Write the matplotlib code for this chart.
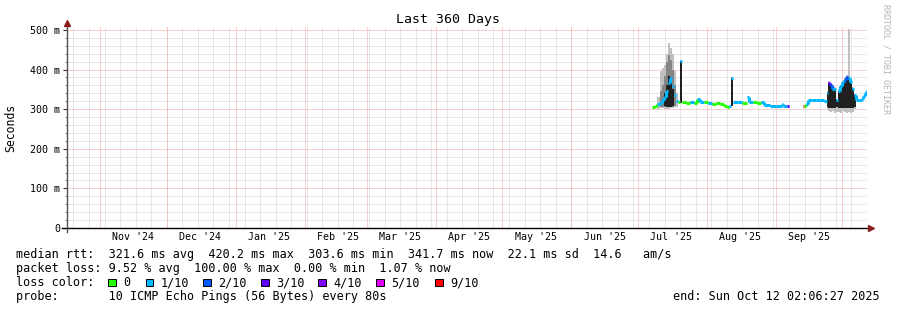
import numpy as np
import pandas as pd
import matplotlib
matplotlib.use("Agg")
import matplotlib.pyplot as plt
import matplotlib.dates as mdates
from matplotlib.lines import Line2D
from matplotlib.patches import Rectangle
from matplotlib.collections import LineCollection

W, H = 897, 310
FONT = "DejaVu Sans Mono"

# --- data -------------------------------------------------------------
start = pd.Timestamp("2024-10-17 02:06:27")
end = pd.Timestamp("2025-10-12 02:06:27")

sample_times = [
    "2025-07-07 12:00", "2025-07-08 17:00", "2025-07-09 19:00", "2025-07-10 23:00",
    "2025-07-11 20:00", "2025-07-12 18:00", "2025-07-13 16:00", "2025-07-14 13:00",
    "2025-07-15 11:00", "2025-07-16 08:00", "2025-07-17 06:00", "2025-07-18 03:00",
    "2025-07-19 00:00", "2025-07-19 22:00", "2025-07-21 00:00", "2025-07-22 16:00",
    "2025-07-24 11:00", "2025-07-26 06:00", "2025-07-27 14:00", "2025-07-28 23:00",
    "2025-07-30 18:00", "2025-08-01 13:00", "2025-08-03 08:00", "2025-08-05 03:00",
    "2025-08-06 23:00", "2025-08-08 18:00", "2025-08-10 02:00", "2025-08-11 02:00",
    "2025-08-11 22:00", "2025-08-13 00:00", "2025-08-15 01:00", "2025-08-16 20:00",
    "2025-08-18 21:00", "2025-08-20 00:00", "2025-08-21 19:00", "2025-08-23 14:00",
    "2025-08-25 10:00", "2025-08-26 17:00", "2025-08-29 10:00", "2025-09-01 03:00",
    "2025-09-03 15:00", "2025-09-04 12:00", "2025-09-06 07:00", "2025-09-06 20:00",
    "2025-09-13 02:00", "2025-09-13 17:00", "2025-09-14 14:00", "2025-09-15 12:00",
    "2025-09-17 07:00", "2025-09-19 02:00", "2025-09-20 22:00", "2025-09-22 17:00",
    "2025-09-23 21:00", "2025-09-24 12:00", "2025-09-25 10:00", "2025-09-26 07:00",
    "2025-09-27 05:00", "2025-09-28 02:00", "2025-09-29 00:00", "2025-09-29 22:00",
    "2025-09-30 20:00", "2025-10-01 17:00", "2025-10-02 15:00", "2025-10-03 12:00",
    "2025-10-04 10:00", "2025-10-05 08:00", "2025-10-06 05:00", "2025-10-07 03:00",
    "2025-10-08 12:00", "2025-10-09 19:00", "2025-10-10 12:00", "2025-10-11 05:00",
    "2025-10-11 16:00",
]
nan = np.nan
median_ms = [
    305, 309, 312, 316, 322, 332, 345, 365, 379, 358, 336, 320,
    317, 421, 317, 316, 318, 316, 325, 319, 317, 315, 312, 315,
    313, 309, 306, 309, 378, 317, 317, 316, 332, 317, 318, 316,
    318, 310, 309, 309, 312, 309, 309, nan,
    307, 308, 312, 324, 323, 324, 322, 321, 340, 366, 362, 350,
    352, 322, 345, 358, 368, 374, 382, 378, 368, 352, 335, 322,
    324, 326, 333, 342, 345,
]
loss_level = [
    0, 0, 1, 1, 1, 1, 1, 1, 1, 1, 1, 1,
    0, 1, 0, 0, 1, 0, 1, 1, 0, 1, 0, 0,
    0, 0, 0, 1, 1, 1, 1, 0, 1, 1, 0, 0,
    1, 1, 1, 1, 1, 1, 3, 0,
    6, 0, 1, 1, 1, 1, 1, 1, 1, 3, 2, 1,
    1, 1, 1, 1, 1, 2, 2, 1, 1, 1, 1, 1,
    1, 1, 1, 1, 1,
]
# outer (light) smoke
smoke_lo = [
    nan, nan, 300, 302, 302, 300, 300, 300, 302, 302, 305, 306,
    nan, nan, nan, nan, nan, nan, nan, nan, nan, nan, nan, nan,
    nan, nan, nan, nan, nan, nan, nan, nan, nan, nan, nan, nan,
    nan, nan, nan, nan, nan, nan, nan, nan,
    nan, nan, nan, nan, nan, nan, nan, nan, 300, 296, 292, 295,
    290, 294, 292, 290, 296, 293, 290, 292, 290, 294, 300, nan,
    nan, nan, nan, nan, nan,
]
smoke_hi = [
    nan, nan, 330, 396, 405, 412, 440, 467, 455, 440, 396, 340,
    nan, nan, nan, nan, nan, nan, nan, nan, nan, nan, nan, nan,
    nan, nan, nan, nan, nan, nan, nan, nan, nan, nan, nan, nan,
    nan, nan, nan, nan, nan, nan, nan, nan,
    nan, nan, nan, nan, nan, nan, nan, nan, 345, 370, 366, 355,
    356, 326, 350, 362, 372, 378, 386, 503, 372, 356, 338, nan,
    nan, nan, nan, nan, nan,
]
# middle smoke
mid_lo = [
    nan, nan, nan, 306, 305, 305, 305, 305, 305, 306, 308, nan,
    nan, nan, nan, nan, nan, nan, nan, nan, nan, nan, nan, nan,
    nan, nan, nan, nan, nan, nan, nan, nan, nan, nan, nan, nan,
    nan, nan, nan, nan, nan, nan, nan, nan,
    nan, nan, nan, nan, nan, nan, nan, nan, nan, nan, nan, nan,
    nan, nan, nan, nan, nan, nan, nan, nan, nan, nan, nan, nan,
    nan, nan, nan, nan, nan,
]
mid_hi = [
    nan, nan, nan, 345, 360, 385, 420, 438, 425, 400, 360, nan,
    nan, nan, nan, nan, nan, nan, nan, nan, nan, nan, nan, nan,
    nan, nan, nan, nan, nan, nan, nan, nan, nan, nan, nan, nan,
    nan, nan, nan, nan, nan, nan, nan, nan,
    nan, nan, nan, nan, nan, nan, nan, nan, nan, nan, nan, nan,
    nan, nan, nan, nan, nan, nan, nan, nan, nan, nan, nan, nan,
    nan, nan, nan, nan, nan,
]
# dense (dark) smoke
dense_lo = [
    nan, nan, nan, nan, nan, 308, 306, 306, 306, 308, nan, nan,
    nan, 316, nan, nan, nan, nan, nan, nan, nan, nan, nan, nan,
    nan, nan, nan, nan, 309, nan, nan, nan, nan, nan, nan, nan,
    nan, nan, nan, nan, nan, nan, nan, nan,
    nan, nan, nan, nan, nan, nan, nan, nan, 306, 303, 303, 303,
    303, 306, 303, 303, 303, 303, 303, 303, 303, 303, 306, nan,
    nan, nan, nan, nan, nan,
]
dense_hi = [
    nan, nan, nan, nan, nan, 340, 362, 385, 375, 350, nan, nan,
    nan, 421, nan, nan, nan, nan, nan, nan, nan, nan, nan, nan,
    nan, nan, nan, nan, 378, nan, nan, nan, nan, nan, nan, nan,
    nan, nan, nan, nan, nan, nan, nan, nan,
    nan, nan, nan, nan, nan, nan, nan, nan, 340, 366, 362, 350,
    352, 322, 345, 358, 368, 374, 382, 378, 368, 352, 335, nan,
    nan, nan, nan, nan, nan,
]

loss_colors = ["#26ff00", "#00b8ff", "#0059ff", "#5e00ff", "#7e00ff", "#dd00ff", "#ff0000"]
loss_labels = ["0", "1/10", "2/10", "3/10", "4/10", "5/10", "9/10"]

month_labels = ["Nov '24", "Dec '24", "Jan '25", "Feb '25", "Mar '25", "Apr '25",
                "May '25", "Jun '25", "Jul '25", "Aug '25", "Sep '25"]
month_label_days = ["2024-11-16", "2024-12-16", "2025-01-16", "2025-02-16", "2025-03-16",
                    "2025-04-16", "2025-05-16", "2025-06-16", "2025-07-16", "2025-08-16",
                    "2025-09-16"]
y_ticks = [0, 100, 200, 300, 400, 500]
y_tick_labels = ["0", "100 m", "200 m", "300 m", "400 m", "500 m"]

legend_lines = [
    "median rtt:  321.6 ms avg  420.2 ms max  303.6 ms min  341.7 ms now  22.1 ms sd  14.6   am/s",
    "packet loss: 9.52 % avg  100.00 % max  0.00 % min  1.07 % now",
    "loss color:",
    "probe:       10 ICMP Echo Pings (56 Bytes) every 80s",
]
end_label = "end: Sun Oct 12 02:06:27 2025"


def fx(px):
    return px / W


def fy(py):
    return 1 - py / H


def step_runs(edges, lo, hi):
    lo = np.asarray(lo, float)
    hi = np.asarray(hi, float)
    runs = []
    i, n = 0, len(lo)
    while i < n:
        if np.isnan(lo[i]):
            i += 1
            continue
        j = i
        while j < n and not np.isnan(lo[j]):
            j += 1
        xs = edges[i:j + 1]
        runs.append((xs, np.append(lo[i:j], lo[j - 1]), np.append(hi[i:j], hi[j - 1])))
        i = j
    return runs


# --- figure -----------------------------------------------------------
fig = plt.figure(figsize=(W / 100, H / 100), dpi=100, facecolor="white")
ax = fig.add_axes([fx(67), 1 - 228 / H, 800 / W, 202 / H])
ax.set_facecolor("white")

t0 = mdates.date2num(start)
t1 = mdates.date2num(end)
ax.set_xlim(t0, t1)
ax.set_ylim(0, 510)

# grid (1px dotted)
grid_kw = dict(lw=0.72, ls=(0, (1, 1)))
for v in range(20, 510, 20):
    if v % 100:
        ax.axhline(v, color="#d2d2d2", zorder=0, **grid_kw)
for d in pd.date_range("2024-10-20", end, freq="7D"):
    ax.axvline(mdates.date2num(d), color="#d2d2d2", zorder=0, **grid_kw)
for v in range(100, 510, 100):
    ax.axhline(v, color="#f0a4a4", zorder=0.5, **grid_kw)
for d in pd.date_range("2024-11-01", end, freq="MS"):
    ax.axvline(mdates.date2num(d), color="#f0a4a4", zorder=0.5, **grid_kw)

# smoke
times = mdates.date2num(pd.to_datetime(sample_times))
edges = np.append(times, t1)
for lo, hi, col, z in [(smoke_lo, smoke_hi, "#c0c0c0", 1),
                       (mid_lo, mid_hi, "#858585", 2),
                       (dense_lo, dense_hi, "#202020", 3)]:
    for xs, l, h in step_runs(edges, lo, hi):
        ax.fill_between(xs, l, h, step="post", color=col, lw=0, zorder=z)

# median line coloured by loss
med = np.asarray(median_ms, float)
segs, cols = [], []
for i in range(len(med)):
    if np.isnan(med[i]):
        continue
    segs.append([(edges[i], med[i]), (edges[i + 1], med[i])])
    cols.append(loss_colors[loss_level[i]])
    if i + 1 < len(med) and not np.isnan(med[i + 1]) and abs(med[i + 1] - med[i]) <= 15:
        segs.append([(edges[i + 1], med[i]), (edges[i + 1], med[i + 1])])
        cols.append(loss_colors[loss_level[i]])
ax.add_collection(LineCollection(segs, colors=cols, linewidths=2.2, capstyle="butt", zorder=4))

# axes, ticks
for s in ax.spines.values():
    s.set_visible(False)
ax.xaxis_date()
ax.set_xticks(mdates.date2num(pd.to_datetime(month_label_days)))
ax.set_xticklabels(month_labels, fontfamily=FONT, fontsize=7.2)
ax.tick_params(axis="x", length=0, pad=3)
ax.set_yticks(y_ticks)
ax.set_yticklabels(y_tick_labels, fontfamily=FONT, fontsize=7.2)
ax.set_yticks(np.arange(20, 510, 20), minor=True)
ax.tick_params(axis="y", which="major", length=3, width=0.8, pad=2, color="#333333")
ax.tick_params(axis="y", which="minor", length=1.5, width=0.7, color="#888888")
ax.tick_params(axis="x", which="minor", length=0)

# axis lines with arrows
fig.add_artist(Line2D([fx(62), fx(869)], [fy(228), fy(228)], color="black", lw=1.0))
fig.add_artist(Line2D([fx(67), fx(67)], [fy(232), fy(25)], color="#505050", lw=1.0))
fig.add_artist(Line2D([fx(871)], [fy(228)], marker=">", markersize=4.5, color="#8b1c1c", lw=0))
fig.add_artist(Line2D([fx(67)], [fy(23)], marker="^", markersize=4.5, color="#8b1c1c", lw=0))

# texts
fig.text(fx(448), fy(19), "Last 360 Days", ha="center", va="center", fontfamily=FONT, fontsize=9.5)
fig.text(fx(11), fy(128), "Seconds", rotation=90, ha="center", va="center", fontfamily=FONT, fontsize=8.3)
fig.text(fx(886), fy(4), "RRDTOOL / TOBI OETIKER", rotation=270, ha="center", va="top",
         fontfamily=FONT, fontsize=6, color="#b4b4b4")

baselines = [258, 272, 286, 300]
for line, yb in zip(legend_lines, baselines):
    fig.text(fx(16), fy(yb), line, ha="left", va="baseline", fontfamily=FONT, fontsize=8.5)
fig.text(fx(880), fy(300), end_label, ha="right", va="baseline", fontfamily=FONT, fontsize=8.5)

box_x = [108.3, 145.7, 203.3, 261, 318.3, 376, 435]
for bx, col, lab in zip(box_x, loss_colors, loss_labels):
    fig.add_artist(Rectangle((fx(bx), fy(286)), 7.5 / W, 7.5 / H, transform=fig.transFigure,
                             facecolor=col, edgecolor="black", lw=0.7))
    fig.text(fx(bx + 15), fy(286), lab, ha="left", va="baseline", fontfamily=FONT, fontsize=8.5)

fig.savefig("out.png", dpi=100, facecolor="white")
